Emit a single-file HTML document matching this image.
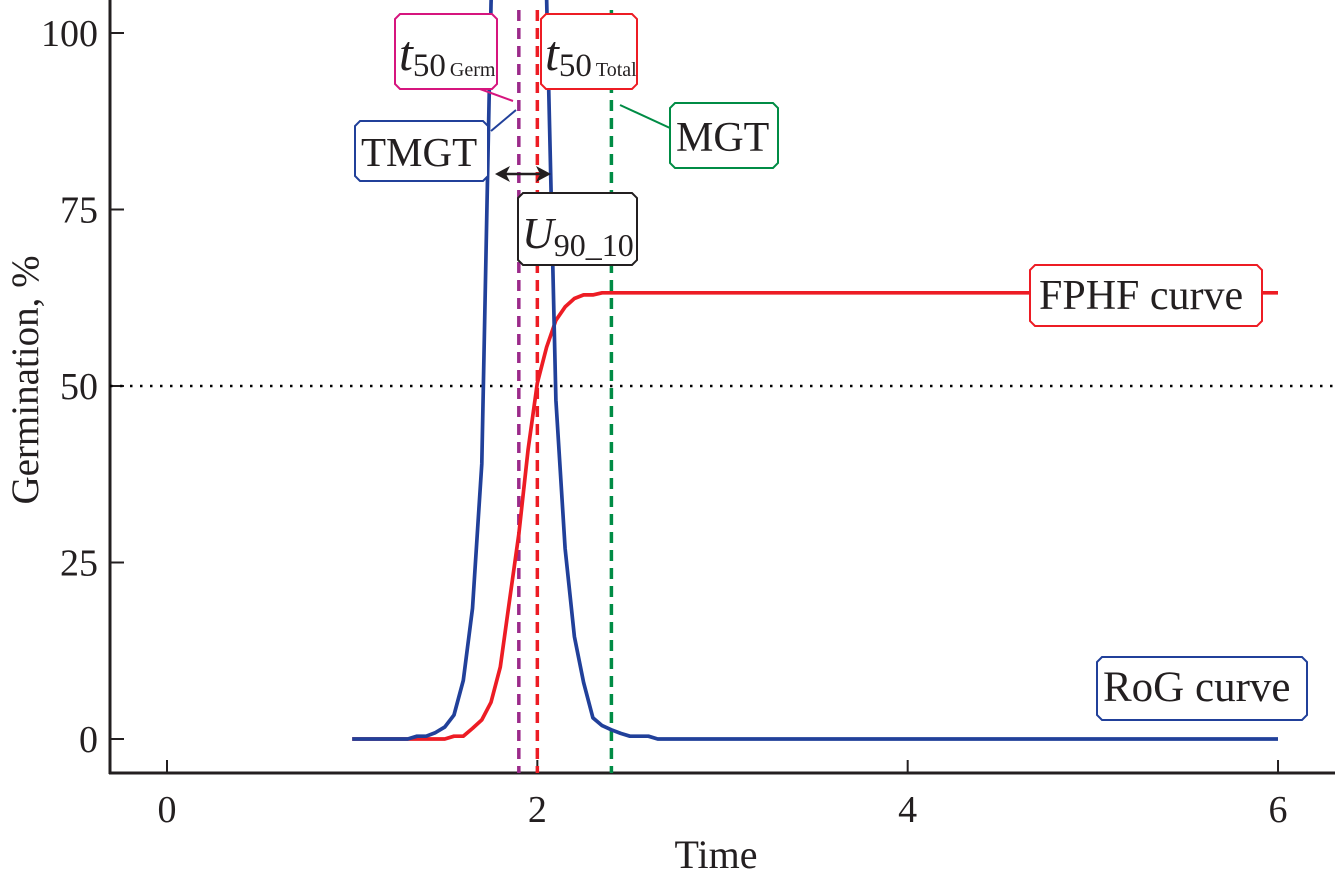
<!DOCTYPE html>
<html><head><meta charset="utf-8"><style>
body{margin:0;background:#fff;}
svg{display:block;font-family:"Liberation Serif",serif;}
</style></head><body>
<svg id="chart" width="1335" height="882" viewBox="0 0 1335 882" xmlns="http://www.w3.org/2000/svg">
<defs><clipPath id="plotclip"><rect x="110" y="0" width="1225" height="773"/></clipPath></defs>
<g id="axes"></g>
<g id="marks" clip-path="url(#plotclip)"></g>
<g id="annots"></g>
</svg>
<script>
const timeValues = [1.0,1.05,1.1,1.15,1.2,1.25,1.3,1.35,1.4,1.45,1.5,1.55,1.6,1.65,1.7,1.75,1.8,1.85,1.9,1.95,2.0,2.05,2.1,2.15,2.2,2.25,2.3,2.35,2.4,2.45,2.5,2.55,2.6,2.65,3.0,4.0,5.0,6.0];
const rogValues = [0,0,0,0,0,0,0,0.4,0.4,0.9,1.7,3.4,8.3,18.5,39,104,150,170,172,165,135,105,48,27,14.5,8,3,1.9,1.3,0.8,0.4,0.4,0.4,0,0,0,0,0];
const fphfValues = [0,0,0,0,0,0,0,0,0,0,0,0.4,0.4,1.5,2.7,5.2,10.2,19.7,29,41,50.4,55.5,59.3,61.2,62.4,62.9,62.9,63.2,63.2,63.2,63.2,63.2,63.2,63.2,63.2,63.2,63.2,63.2];
const xTicks = [0,2,4,6];
const yTicks = [0,25,50,75,100];
const t50Germ = 1.9, t50Total = 2.0, mgtValue = 2.4, halfLevel = 50;

const X = t => 167 + t * 185.17;
const Y = v => 739 - v * 7.06;
const NS = "http://www.w3.org/2000/svg";
function mk(tag, attrs, parent){const e=document.createElementNS(NS,tag);for(const k in attrs)e.setAttribute(k,attrs[k]);parent.appendChild(e);return e;}
const axes=document.getElementById('axes'), marks=document.getElementById('marks'), ann=document.getElementById('annots');

let e;
e=mk('line',{x1:110,y1:0,x2:110,y2:774,stroke:'#231f20','stroke-width':3},axes);


e=mk('line',{x1:109,y1:773,x2:1335,y2:773,stroke:'#231f20','stroke-width':3},axes);


xTicks.forEach(t=>{
  e=mk('line',{x1:X(t),y1:773,x2:X(t),y2:760,stroke:'#231f20','stroke-width':2},axes);
  
  
  e=mk('text',{x:X(t),y:822,'text-anchor':'middle','font-size':38,fill:'#231f20'},axes);
  e.textContent=t;
  
  
});
yTicks.forEach(v=>{
  e=mk('line',{x1:110,y1:Y(v),x2:124,y2:Y(v),stroke:'#231f20','stroke-width':2},axes);
  
  
  e=mk('text',{x:98,y:Y(v)+13,'text-anchor':'end','font-size':38,fill:'#231f20'},axes);
  e.textContent=v;
  
  
});
e=mk('text',{x:716,y:868,'text-anchor':'middle','font-size':40,fill:'#231f20'},axes);
e.textContent='Time';


e=mk('text',{x:0,y:0,'text-anchor':'middle','font-size':39,fill:'#231f20',transform:'translate(38,380) rotate(-90)'},axes);
e.textContent='Germination, %';



e=mk('line',{x1:110,y1:Y(halfLevel),x2:1335,y2:Y(halfLevel),stroke:'#000','stroke-width':2.5,'stroke-dasharray':'2.5 7.5'},marks);


[[t50Germ,'#9b2a8a','t50-germ-line'],[t50Total,'#ed1c24','t50-total-line'],[mgtValue,'#008c45','mgt-line']].forEach(([t,c,n])=>{
  e=mk('line',{x1:X(t),y1:10,x2:X(t),y2:773,stroke:c,'stroke-width':3.5,'stroke-dasharray':'11 7'},marks);
  
  
});
function pathFrom(vals){return timeValues.map((t,i)=>(i?'L':'M')+X(t).toFixed(1)+' '+Y(vals[i]).toFixed(1)).join(' ');}
e=mk('path',{d:pathFrom(fphfValues),fill:'none',stroke:'#ed1c24','stroke-width':3.7,'stroke-linejoin':'round'},marks);


e=mk('path',{d:pathFrom(rogValues),fill:'none',stroke:'#21409a','stroke-width':3.7,'stroke-linejoin':'round'},marks);



function box(x,y,w,h,c,name){
  const n=5;
  const d=`M${x+n} ${y} H${x+w-n} L${x+w} ${y+n} V${y+h-n} L${x+w-n} ${y+h} H${x+n} L${x} ${y+h-n} V${y+n} Z`;
  const p=mk('path',{d:d,fill:'#fff',stroke:c,'stroke-width':2},ann);
  
  
}
function leader(x1,y1,x2,y2,c,name){
  const l=mk('line',{x1,y1,x2,y2,stroke:c,'stroke-width':2},ann);
  
  
}
leader(480,89,513,101,'#d6157e','t50-germ-leader');
leader(491,131,516,110,'#21409a','tmgt-leader');
leader(620,105,670,128,'#008c45','mgt-leader');
box(395,14,102,75,'#d6157e','t50-germ-label-box');
box(541,14,96,75,'#ed1c24','t50-total-label-box');
box(355,121,133,60,'#21409a','tmgt-label-box');
box(670,103,108,65,'#008c45','mgt-label-box');
box(518,193,119,72,'#231f20','u90-10-label-box');
box(1030,265,232,61,'#ed1c24','fphf-label-box');
box(1097,657,210,63,'#21409a','rog-label-box');

function txt(html,x,y,size,name){
  const t=mk('text',{x,y,'font-size':size,fill:'#231f20'},ann);
  t.innerHTML=html;
  
  
}
txt('<tspan font-style="italic">t</tspan><tspan font-size="33" dy="6">50</tspan><tspan font-size="20" dx="4">Germ</tspan>',399,70,50,'t50-germ-label');
txt('<tspan font-style="italic">t</tspan><tspan font-size="33" dy="6">50</tspan><tspan font-size="20" dx="4">Total</tspan>',545,70,50,'t50-total-label');
txt('TMGT',361,166,41,'tmgt-label');
txt('MGT',676,151,42,'mgt-label');
txt('<tspan font-style="italic">U</tspan><tspan font-size="32" dy="8">90_10</tspan>',522,248,44,'u90-10-label');
txt('FPHF curve',1039,309,42,'fphf-label');
txt('RoG curve',1103,701,43,'rog-label');

e=mk('line',{x1:503,y1:174,x2:542,y2:174,stroke:'#231f20','stroke-width':2.5},ann);


e=mk('path',{d:'M495 174 L510 166 L506 174 L510 182 Z M551 174 L536 166 L540 174 L536 182 Z',fill:'#231f20'},ann);


</script>
</body></html>
